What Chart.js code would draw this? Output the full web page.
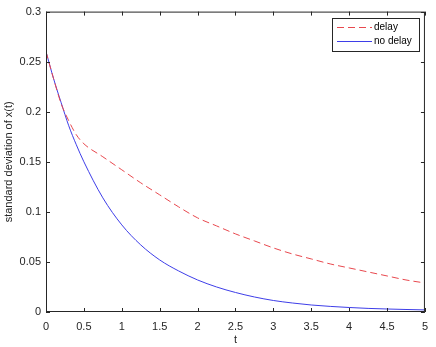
<!DOCTYPE html>
<html>
<head>
<meta charset="utf-8">
<script src="https://cdn.jsdelivr.net/npm/chart.js@4/dist/chart.umd.min.js"></script>
<style>
    html, body { margin: 0; padding: 0; background: #fff; }
    #wrap { width: 436px; height: 347px; position: relative; }
</style>
</head>
<body>
<div id="wrap"><canvas id="sdChart"></canvas></div>
<script>
// time points (t)
const tValues = [0, 0.1, 0.2, 0.3, 0.4, 0.5, 0.75, 1, 1.25, 1.5, 1.75, 2, 2.25, 2.5, 2.75, 3,
    3.25, 3.5, 3.75, 4, 4.25, 4.5, 4.75, 5];
// standard deviation with delay (dashed red)
const delayValues = [0.26, 0.233, 0.208, 0.191, 0.177, 0.168, 0.155, 0.142, 0.129, 0.117, 0.105, 0.094,
    0.086, 0.078, 0.071, 0.064, 0.058, 0.053, 0.048, 0.044, 0.040, 0.036, 0.032, 0.029];
// standard deviation without delay (solid blue)
const noDelayValues = [0.26, 0.233, 0.209, 0.186, 0.167, 0.150, 0.114, 0.087, 0.067, 0.052, 0.041, 0.032,
    0.025, 0.0195, 0.015, 0.0115, 0.009, 0.007, 0.0056, 0.0045, 0.0036, 0.003, 0.0025, 0.0021];
const xTicks = [0, 0.5, 1, 1.5, 2, 2.5, 3, 3.5, 4, 4.5, 5];
const yTicks = [0, 0.05, 0.1, 0.15, 0.2, 0.25, 0.3];
const seriesLabels = ['delay', 'no delay'];

const axisColor = '#262626';
const fontFamily = 'Helvetica, "Liberation Sans", Arial, sans-serif';

function toPoints(xs, ys) {
    return xs.map((x, i) => ({ x: x, y: ys[i] }));
}

// MATLAB-style box with inward ticks and legend
const boxPlugin = {
    id: 'matlabBox',
    afterDraw(chart) {
        const ctx = chart.ctx;
        const a = chart.chartArea;
        const xs = chart.scales.x;
        const ys = chart.scales.y;
        ctx.save();
        ctx.strokeStyle = axisColor;
        ctx.lineWidth = 1;
        ctx.strokeRect(a.left + 0.5, a.top + 0.5, a.right - a.left - 1, a.bottom - a.top - 1);
        ctx.beginPath();
        const len = 4;
        xTicks.forEach(v => {
            const px = Math.round(xs.getPixelForValue(v)) + 0.5;
            ctx.moveTo(px, a.bottom); ctx.lineTo(px, a.bottom - len);
            ctx.moveTo(px, a.top); ctx.lineTo(px, a.top + len);
        });
        yTicks.forEach(v => {
            const py = Math.round(ys.getPixelForValue(v)) + 0.5;
            ctx.moveTo(a.left, py); ctx.lineTo(a.left + len, py);
            ctx.moveTo(a.right, py); ctx.lineTo(a.right - len, py);
        });
        ctx.stroke();

        // legend box in the upper right corner
        const bx = 332, by = 18.5, bw = 87, bh = 33;
        ctx.fillStyle = '#fff';
        ctx.fillRect(bx, by, bw, bh);
        ctx.strokeRect(bx + 0.5, by, bw, bh);
        chart.data.datasets.forEach((ds, i) => {
            const ly = by + 9 + i * 14;
            ctx.beginPath();
            ctx.strokeStyle = ds.borderColor;
            ctx.setLineDash(ds.borderDash || []);
            ctx.moveTo(bx + 5, ly);
            ctx.lineTo(bx + 40, ly);
            ctx.stroke();
            ctx.setLineDash([]);
            ctx.fillStyle = '#000';
            ctx.font = '10px ' + fontFamily;
            ctx.textBaseline = 'middle';
            ctx.fillText(ds.label, bx + 42, ly);
        });
        ctx.restore();
    }
};

const ctx = document.getElementById('sdChart').getContext('2d');
new Chart(ctx, {
    type: 'line',
    data: {
        datasets: [{
            label: seriesLabels[0],
            data: toPoints(tValues, delayValues),
            borderColor: 'rgb(232, 72, 78)',
            borderWidth: 1,
            borderDash: [7, 4],
            pointRadius: 0,
            cubicInterpolationMode: 'monotone',
            fill: false
        }, {
            label: seriesLabels[1],
            data: toPoints(tValues, noDelayValues),
            borderColor: 'rgb(62, 62, 232)',
            borderWidth: 1,
            pointRadius: 0,
            cubicInterpolationMode: 'monotone',
            fill: false
        }]
    },
    options: {
        responsive: true,
        maintainAspectRatio: false,
        animation: false,
        layout: { padding: { top: 10, right: 8, left: 0, bottom: 0 } },
        plugins: {
            legend: { display: false },
            tooltip: { enabled: false }
        },
        scales: {
            x: {
                type: 'linear',
                min: 0,
                max: 5,
                afterBuildTicks: scale => { scale.ticks = xTicks.map(v => ({ value: v })); },
                afterFit: scale => { scale.height = 35; },
                grid: { display: false, drawTicks: false },
                border: { display: false },
                ticks: {
                    color: axisColor,
                    font: { family: fontFamily, size: 11 },
                    padding: 8,
                    maxRotation: 0,
                    callback: v => String(v)
                },
                title: {
                    display: true,
                    text: 't',
                    color: axisColor,
                    font: { family: fontFamily, size: 11 },
                    padding: { top: 2, bottom: 0 }
                }
            },
            y: {
                type: 'linear',
                min: 0,
                max: 0.3,
                afterBuildTicks: scale => { scale.ticks = yTicks.map(v => ({ value: v })); },
                afterFit: scale => { scale.width = 46; },
                grid: { display: false, drawTicks: false },
                border: { display: false },
                ticks: {
                    color: axisColor,
                    font: { family: fontFamily, size: 11 },
                    padding: 5,
                    callback: v => String(v)
                },
                title: {
                    display: true,
                    text: 'standard deviation of x(t)',
                    color: axisColor,
                    font: { family: fontFamily, size: 11 },
                    padding: { top: 2, bottom: 0 }
                }
            }
        }
    },
    plugins: [boxPlugin]
});
</script>
</body>
</html>
